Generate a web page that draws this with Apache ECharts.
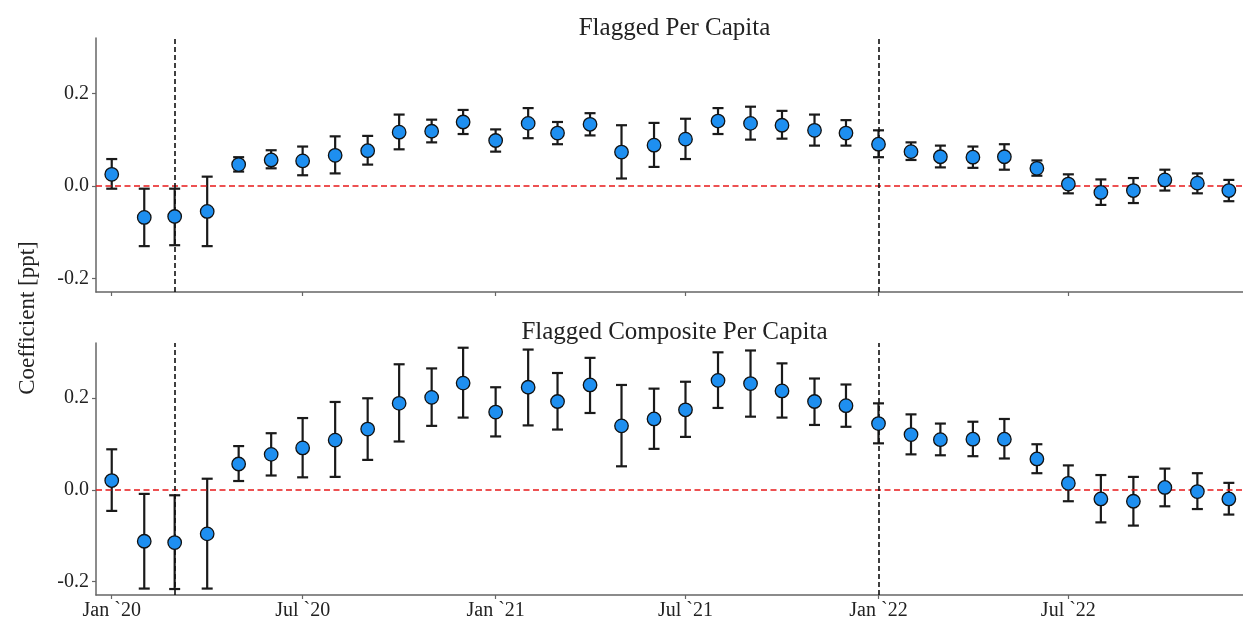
<!DOCTYPE html>
<html>
<head>
<meta charset="utf-8">
<script src="https://cdn.jsdelivr.net/npm/echarts@6/dist/echarts.min.js"></script>
<style>html,body{margin:0;padding:0;background:#fff}#c{width:1243px;height:624px}</style>
</head>
<body>
<div id="c"></div>
<script>
const months = ['2020-01-01','2020-02-01','2020-03-01','2020-04-01','2020-05-01','2020-06-01','2020-07-01','2020-08-01','2020-09-01','2020-10-01','2020-11-01','2020-12-01',
'2021-01-01','2021-02-01','2021-03-01','2021-04-01','2021-05-01','2021-06-01','2021-07-01','2021-08-01','2021-09-01','2021-10-01','2021-11-01','2021-12-01',
'2022-01-01','2022-02-01','2022-03-01','2022-04-01','2022-05-01','2022-06-01','2022-07-01','2022-08-01','2022-09-01','2022-10-01','2022-11-01','2022-12-01'];

const flaggedCoef = [0.025,-0.068,-0.066,-0.055,0.046,0.056,0.054,0.066,0.076,0.116,0.118,0.138,0.098,0.135,0.114,0.133,0.073,0.088,0.101,0.140,0.135,0.131,0.120,0.114,0.090,0.074,0.063,0.062,0.063,0.038,0.004,-0.014,-0.010,0.013,0.006,-0.010];
const flaggedLo   = [-0.006,-0.130,-0.128,-0.130,0.031,0.038,0.023,0.027,0.046,0.079,0.094,0.112,0.074,0.103,0.090,0.109,0.016,0.041,0.058,0.112,0.100,0.102,0.087,0.087,0.062,0.056,0.040,0.039,0.035,0.022,-0.016,-0.041,-0.037,-0.010,-0.016,-0.033];
const flaggedHi   = [0.058,-0.006,-0.006,0.020,0.062,0.077,0.085,0.107,0.108,0.154,0.143,0.164,0.122,0.168,0.138,0.157,0.131,0.136,0.145,0.168,0.171,0.162,0.154,0.142,0.120,0.094,0.087,0.085,0.090,0.055,0.025,0.014,0.017,0.035,0.027,0.013];

const compCoef = [0.020,-0.112,-0.115,-0.096,0.056,0.077,0.091,0.108,0.132,0.188,0.201,0.232,0.169,0.223,0.192,0.228,0.139,0.154,0.174,0.238,0.231,0.215,0.192,0.183,0.144,0.120,0.109,0.110,0.110,0.067,0.014,-0.020,-0.025,0.005,-0.004,-0.020];
const compLo   = [-0.046,-0.215,-0.216,-0.215,0.019,0.031,0.027,0.028,0.065,0.105,0.139,0.157,0.116,0.140,0.131,0.167,0.051,0.089,0.115,0.178,0.159,0.157,0.141,0.137,0.101,0.077,0.075,0.073,0.068,0.036,-0.025,-0.071,-0.078,-0.036,-0.042,-0.054];
const compHi   = [0.088,-0.009,-0.012,0.024,0.095,0.123,0.156,0.191,0.199,0.273,0.264,0.309,0.223,0.305,0.254,0.287,0.228,0.220,0.235,0.299,0.303,0.275,0.242,0.229,0.188,0.164,0.144,0.148,0.154,0.099,0.053,0.032,0.028,0.046,0.036,0.015];

const panelTitles = ['Flagged Per Capita','Flagged Composite Per Capita'];
const yTicks = [-0.2, 0.0, 0.2];
const xTickDates = ['2020-01-01','2020-07-01','2021-01-01','2021-07-01','2022-01-01','2022-07-01'];
const xTickLabels = ['Jan `20','Jul `20','Jan `21','Jul `21','Jan `22','Jul `22'];
const eventDates = ['2020-03-01','2022-01-01'];

const FONT = '"Liberation Serif", "Times New Roman", serif';
const DAY = 86400000;
const ts = s => Math.round(new Date(s + 'T00:00:00Z').getTime() / DAY); // days since epoch
const xTickTs = xTickDates.map(ts);
const labelMap = {};
xTickTs.forEach((t,i)=>labelMap[t]=xTickLabels[i]);

const xMin = ts('2019-12-17');
const xMax = ts('2022-12-14') + 0.5;

function xAxisCfg(idx, showLabels){
  return {
    type:'value', gridIndex:idx, min:xMin, max:xMax,
    axisLine:{show:true, onZero:false, lineStyle:{color:'#666', width:1.5}},
    axisTick:{show:true, customValues:xTickTs, length:4, lineStyle:{color:'#666', width:1.2}},
    axisLabel:{show:showLabels, customValues:xTickTs, formatter:v=>labelMap[Math.round(v)]||'', color:'#222', fontFamily:FONT, fontSize:20, margin:6},
    splitLine:{show:false}
  };
}
function yAxisCfg(idx){
  return {
    type:'value', gridIndex:idx, min:-0.229, max:0.3193,
    axisLine:{show:true, onZero:false, lineStyle:{color:'#666', width:1.5}},
    axisTick:{show:true, customValues:yTicks, length:4, lineStyle:{color:'#666', width:1.2}},
    axisLabel:{show:true, customValues:yTicks, formatter:v=>(v<0?'-':'')+Math.abs(v).toFixed(1), color:'#222', fontFamily:FONT, fontSize:20, margin:7},
    splitLine:{show:false}
  };
}

function errSeries(idx, coef, lo, hi){
  const data = months.map((m,i)=>[ts(m), coef[i], lo[i], hi[i]]);
  return {
    type:'custom', xAxisIndex:idx, yAxisIndex:idx, silent:true, z:3,
    encode:{x:0, y:[1,2,3]},
    data,
    renderItem:function(params, api){
      const x = api.value(0);
      const p1 = api.coord([x, api.value(2)]);
      const p2 = api.coord([x, api.value(3)]);
      const cw = 5.5;
      const st = {stroke:'#1a1a1a', lineWidth:2.2};
      return {type:'group', children:[
        {type:'line', shape:{x1:p1[0],y1:p1[1],x2:p2[0],y2:p2[1]}, style:st},
        {type:'line', shape:{x1:p1[0]-cw,y1:p1[1],x2:p1[0]+cw,y2:p1[1]}, style:st},
        {type:'line', shape:{x1:p2[0]-cw,y1:p2[1],x2:p2[0]+cw,y2:p2[1]}, style:st}
      ]};
    }
  };
}
function ptSeries(idx, coef){
  return {
    type:'scatter', xAxisIndex:idx, yAxisIndex:idx, silent:true, z:5,
    symbol:'circle', symbolSize:13.5,
    itemStyle:{color:'#1e8ff0', borderColor:'#111', borderWidth:1.3, opacity:1},
    data: months.map((m,i)=>[ts(m), coef[i]]),
    markLine:{
      silent:true, symbol:['none','none'], label:{show:false}, animation:false,
      data:[
        {yAxis:0, lineStyle:{color:'#e8191a', type:[6,3.5], width:1.6}},
        ...eventDates.map(d=>({xAxis:ts(d), lineStyle:{color:'#111', type:[5,3], width:1.6}}))
      ]
    }
  };
}

const chart = echarts.init(document.getElementById('c'), null, {renderer:'canvas'});
chart.setOption({
  animation:false,
  backgroundColor:'#fff',
  grid:[
    {left:96, top:38, right:0, height:254},
    {left:96, top:343, right:0, height:252}
  ],
  title:[
    {text:panelTitles[0], left:669.5, top:11, textAlign:'center', textStyle:{fontFamily:FONT, fontSize:25, fontWeight:'normal', color:'#222'}},
    {text:panelTitles[1], left:669.5, top:315, textAlign:'center', textStyle:{fontFamily:FONT, fontSize:25, fontWeight:'normal', color:'#222'}}
  ],
  graphic:[
    {type:'text', x:28, y:318, rotation:Math.PI/2, style:{text:'Coefficient [ppt]', fontFamily:FONT, fontSize:23, fill:'#222', textAlign:'center', textVerticalAlign:'middle'}}
  ],
  xAxis:[xAxisCfg(0,false), xAxisCfg(1,true)],
  yAxis:[yAxisCfg(0), yAxisCfg(1)],
  series:[
    errSeries(0, flaggedCoef, flaggedLo, flaggedHi),
    ptSeries(0, flaggedCoef),
    errSeries(1, compCoef, compLo, compHi),
    ptSeries(1, compCoef)
  ]
});
</script>
</body>
</html>
